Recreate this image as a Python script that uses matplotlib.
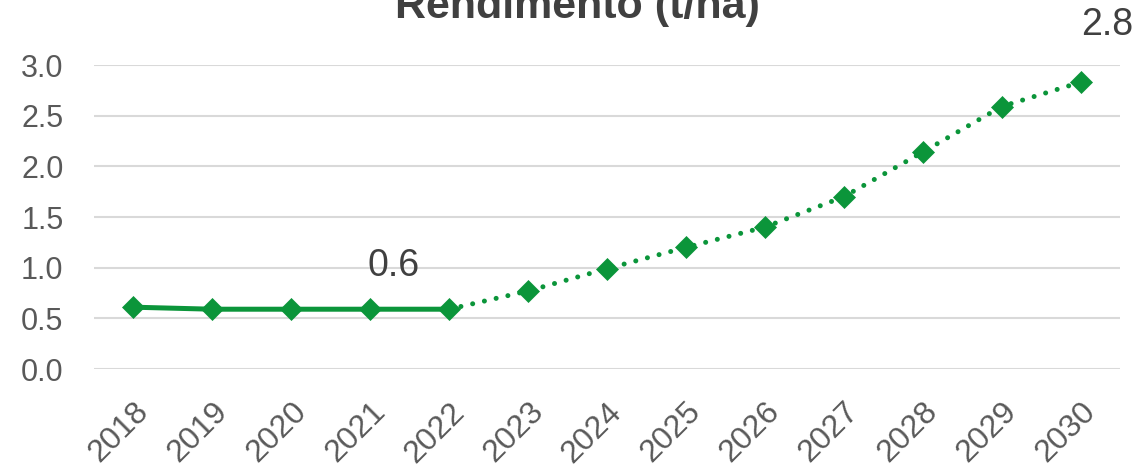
import matplotlib
matplotlib.use("Agg")
import matplotlib.pyplot as plt

years = ["2018", "2019", "2020", "2021", "2022", "2023", "2024",
         "2025", "2026", "2027", "2028", "2029", "2030"]
actual = [0.61, 0.59, 0.59, 0.59, 0.59]
projected = [0.59, 0.77, 0.99, 1.20, 1.40, 1.70, 2.14, 2.59, 2.83]
yticks = [0.0, 0.5, 1.0, 1.5, 2.0, 2.5, 3.0]
label_idx = [3, 12]
label_text = ["0.6", "2.8"]

plt.rcParams['font.family'] = ['Liberation Sans', 'DejaVu Sans']
green = '#0b953a'

fig = plt.figure(figsize=(11.4, 4.69), dpi=100)
ax = fig.add_axes([94/1140, 100/469, (1120-94)/1140, (369-65)/469])

x_act = list(range(len(actual)))
x_proj = list(range(len(actual) - 1, len(actual) - 1 + len(projected)))

ax.plot(x_proj, projected, color=green, lw=3.6, linestyle=(0, (0.01, 2.4)),
        dash_capstyle='round', zorder=3)
ax.plot(x_proj[1:], projected[1:], linestyle='none', marker='D', ms=11,
        color=green, mec=green, mew=0.5, zorder=4)
ax.plot(x_act, actual, color=green, lw=3.6, marker='D', ms=11, mec=green,
        mew=0.5, solid_capstyle='butt', zorder=4)

ax.set_xlim(-0.5, len(years) - 0.5)
ax.set_ylim(0, 3.0)
ax.set_yticks(yticks)
ax.set_yticklabels([f"{v:.1f}" for v in yticks])
ax.set_xticks(range(len(years)))
ax.set_xticklabels(years, rotation=45, ha='right', va='top', rotation_mode='anchor')
ax.tick_params(axis='both', length=0, labelsize=22, colors='#595959')
ax.tick_params(axis='y', pad=22)
ax.tick_params(axis='x', pad=20)
for lbl in ax.get_xticklabels():
    lbl.set_fontsize(23)
for s in ax.spines.values():
    s.set_visible(False)
ax.yaxis.grid(True, color='#d9d9d9', lw=1.5)
ax.set_axisbelow(True)

allvals = actual + projected[1:]
offsets = [(17, 18), (19, 28)]
for i, t, off in zip(label_idx, label_text, offsets):
    ax.annotate(t, (i, allvals[i]), xytext=off, textcoords='offset points',
                ha='center', va='bottom', fontsize=27, color='#404040',
                annotation_clip=False)

fig.text(577/1140, 1 - 18/469, "Rendimento (t/ha)", ha='center', va='baseline',
         fontsize=31, fontweight='bold', color='#404040')

fig.savefig('out.png', dpi=100)
